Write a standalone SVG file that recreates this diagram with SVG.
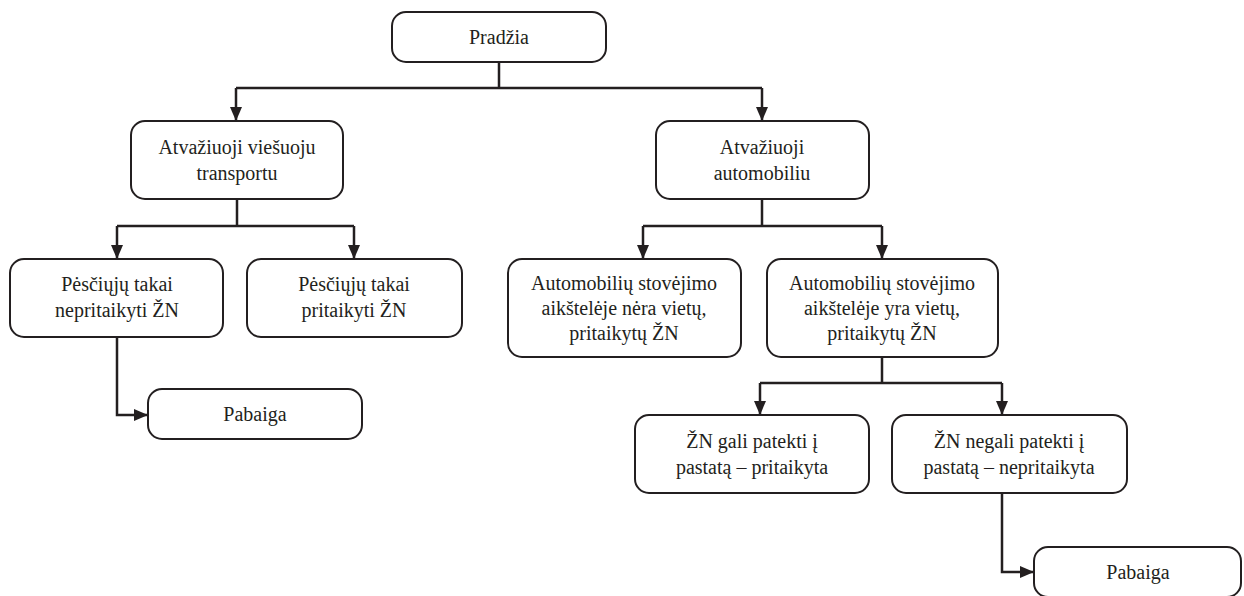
<svg xmlns="http://www.w3.org/2000/svg" width="1244" height="596" viewBox="0 0 1244 596">
<defs>
<marker id="arr" markerUnits="userSpaceOnUse" markerWidth="14" markerHeight="12" refX="14" refY="6" orient="auto">
<path d="M0,0 L14,6 L0,12 z" fill="#231f20"/>
</marker>
<style>
.box{fill:#fff;stroke:#231f20;stroke-width:2}
.t{font-family:"Liberation Serif","Tinos","Times New Roman","DejaVu Serif",serif;font-size:20px;fill:#231f20;text-anchor:middle}
.c{fill:none;stroke:#231f20;stroke-width:2.5}
</style>
</defs>
<rect width="1244" height="596" fill="#fff"/>
<g id="connectors">
<path class="c" d="M499,62 V88 M236,88 H762"/>
<path class="c" d="M236,88 V121" marker-end="url(#arr)"/>
<path class="c" d="M762,88 V121" marker-end="url(#arr)"/>
<path class="c" d="M237,199 V226 M117,226 H354"/>
<path class="c" d="M117,226 V259" marker-end="url(#arr)"/>
<path class="c" d="M354,226 V259" marker-end="url(#arr)"/>
<path class="c" d="M762,199 V226 M643,226 H882"/>
<path class="c" d="M643,226 V259" marker-end="url(#arr)"/>
<path class="c" d="M882,226 V259" marker-end="url(#arr)"/>
<path class="c" d="M117,337 V415 H148" marker-end="url(#arr)"/>
<path class="c" d="M882,357 V383 M760,383 H1002"/>
<path class="c" d="M760,383 V415" marker-end="url(#arr)"/>
<path class="c" d="M1002,383 V415" marker-end="url(#arr)"/>
<path class="c" d="M1002,493 V572 H1034" marker-end="url(#arr)"/>
</g>
<g id="n-start"><rect class="box" x="392" y="12" width="214" height="50" rx="14"/><text class="t" x="499" y="44">Pradžia</text></g>
<g id="n-public"><rect class="box" x="131" y="121" width="212" height="78" rx="14"/><text class="t" x="237" y="154">Atvažiuoji viešuoju</text><text class="t" x="237" y="180">transportu</text></g>
<g id="n-car"><rect class="box" x="656" y="121" width="213" height="78" rx="14"/><text class="t" x="762" y="154">Atvažiuoji</text><text class="t" x="762" y="180">automobiliu</text></g>
<g id="n-walk-no"><rect class="box" x="10" y="259" width="213" height="78" rx="14"/><text class="t" x="117" y="291">Pėsčiųjų takai</text><text class="t" x="117" y="317">nepritaikyti ŽN</text></g>
<g id="n-walk-yes"><rect class="box" x="247" y="259" width="215" height="78" rx="14"/><text class="t" x="354" y="291">Pėsčiųjų takai</text><text class="t" x="354" y="317">pritaikyti ŽN</text></g>
<g id="n-park-no"><rect class="box" x="508" y="259" width="233" height="98" rx="14"/><text class="t" x="624" y="290">Automobilių stovėjimo</text><text class="t" x="624" y="315">aikštelėje nėra vietų,</text><text class="t" x="624" y="340">pritaikytų ŽN</text></g>
<g id="n-park-yes"><rect class="box" x="767" y="259" width="231" height="98" rx="14"/><text class="t" x="882" y="290">Automobilių stovėjimo</text><text class="t" x="882" y="315">aikštelėje yra vietų,</text><text class="t" x="882" y="340">pritaikytų ŽN</text></g>
<g id="n-end1"><rect class="box" x="148" y="389" width="214" height="50" rx="14"/><text class="t" x="255" y="421">Pabaiga</text></g>
<g id="n-can"><rect class="box" x="635" y="415" width="234" height="78" rx="14"/><text class="t" x="752" y="448">ŽN gali patekti į</text><text class="t" x="752" y="474">pastatą – pritaikyta</text></g>
<g id="n-cannot"><rect class="box" x="892" y="415" width="235" height="78" rx="14"/><text class="t" x="1009" y="448">ŽN negali patekti į</text><text class="t" x="1009" y="474">pastatą – nepritaikyta</text></g>
<g id="n-end2"><rect class="box" x="1034" y="547" width="207" height="50" rx="14"/><text class="t" x="1138" y="579">Pabaiga</text></g>
</svg>
